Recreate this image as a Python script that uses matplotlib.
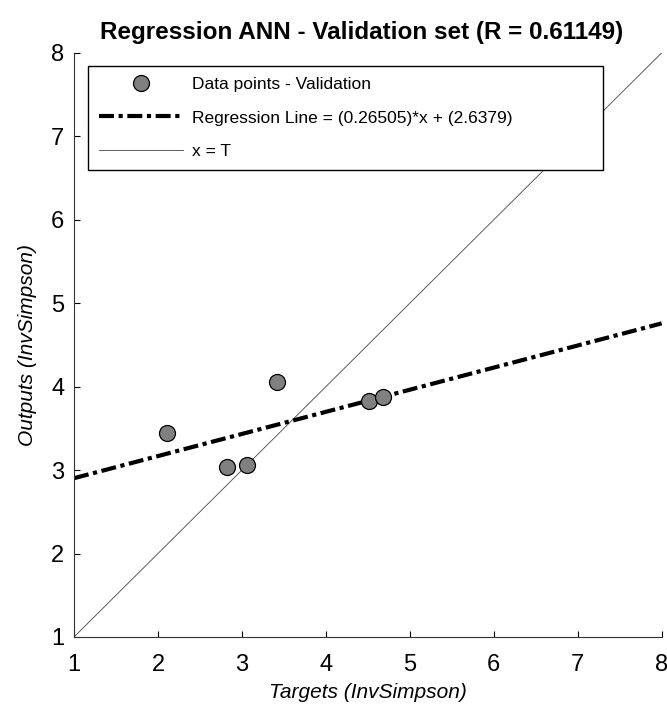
import numpy as np
import matplotlib
matplotlib.use("Agg")
import matplotlib.pyplot as plt

plt.rcParams["font.family"] = ["Liberation Sans", "DejaVu Sans"]

# validation data
targets = [2.11, 2.82, 3.06, 3.42, 4.51, 4.68]
outputs = [3.45, 3.04, 3.06, 4.05, 3.83, 3.88]
slope, intercept = 0.26505, 2.6379
r_value = 0.61149
x_range = [1, 8]


def main():
    fig = plt.figure(figsize=(6.67, 7.05), dpi=100)
    ax = fig.add_axes([0.111, 0.0965, 0.881, 0.8285])

    xs = np.array(x_range, dtype=float)
    ax.plot(targets, outputs, "o", ms=11.5, mfc="#808080", mec="black", mew=0.9,
            label="Data points - Validation", zorder=3)
    ax.plot(xs, slope * xs + intercept, color="black", lw=3, ls=(0, (3.6, 1.1, 1.0, 1.1)),
            label=f"Regression Line = ({slope})*x + ({intercept})", zorder=2)
    ax.plot(xs, xs, color="#444444", lw=0.6, label="x = T", zorder=1)

    ax.set_xlim(1, 8)
    ax.set_ylim(1, 8)
    ax.set_xticks(range(1, 9))
    ax.set_yticks(range(1, 9))
    ax.tick_params(direction="in", length=4, labelsize=17)
    ax.tick_params(axis="x", pad=12)
    ax.tick_params(axis="y", pad=7)
    for s in ("top", "right"):
        ax.spines[s].set_visible(False)
    for s in ("left", "bottom"):
        ax.spines[s].set_color("#333333")

    ax.set_xlabel("Targets (InvSimpson)", style="italic", fontsize=15, labelpad=5)
    ax.set_ylabel("Outputs (InvSimpson)", style="italic", fontsize=15, labelpad=10)
    ax.set_title(f"Regression ANN - Validation set (R = {r_value})", fontsize=17.5,
                 fontweight="bold", pad=10, x=0.49)

    leg = ax.legend(loc="upper left", bbox_to_anchor=(0.024, 0.793, 0.876, 0.185),
                    mode="expand", fontsize=12.5, handlelength=4.8, handletextpad=0.55,
                    fancybox=False, framealpha=1, edgecolor="black", borderaxespad=0,
                    labelspacing=1.05, borderpad=0.65)
    leg.get_frame().set_linewidth(1.0)

    fig.savefig("out.png", dpi=100)


if __name__ == "__main__":
    main()
